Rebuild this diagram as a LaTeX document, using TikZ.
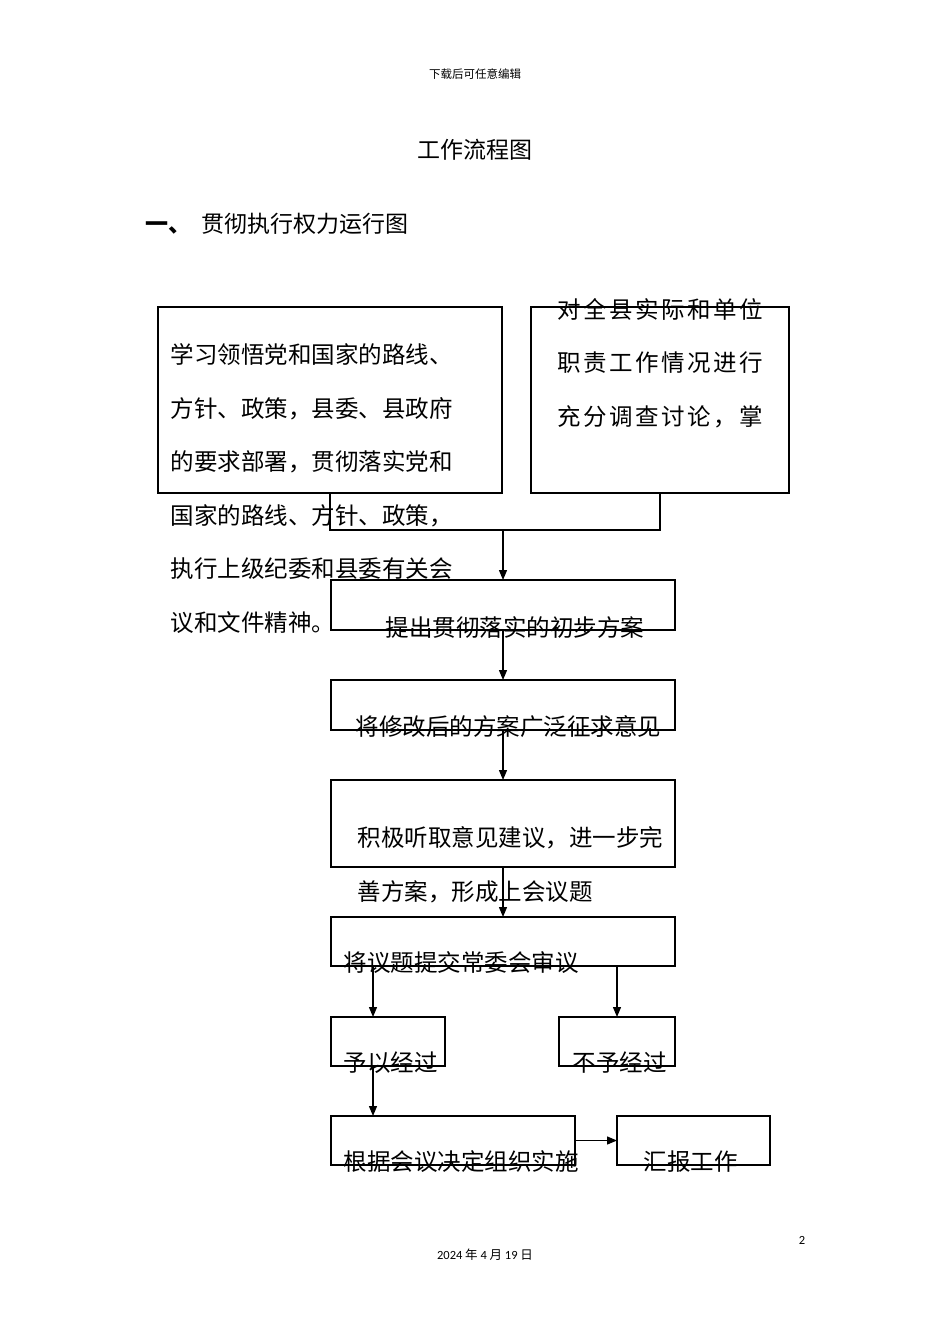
\documentclass[tikz,border=0pt]{standalone}
\usepackage{fontspec}
\setmainfont{Noto Sans CJK SC}
\newfontfamily\latinfont{Carlito}
\usetikzlibrary{arrows.meta}

\begin{document}
\begin{tikzpicture}[x=1pt,y=-1pt,line width=1.3pt,>={Triangle[length=10pt,width=8pt]},
                    box/.style={rectangle,draw,inner sep=0,outer sep=0,anchor=north west},
                    txt/.style={inner sep=0,anchor=base west,align=left,
                                font=\fontsize{23.5}{53.5}\selectfont}]
  \useasboundingbox (0,0) rectangle (950,1344);

  \node (head) at (475,74) {\fontsize{11.5}{14}\selectfont 下载后可任意编辑};
  \node (title) at (475,150) {\fontsize{23}{28}\selectfont 工作流程图};
  \node[txt,font=\fontsize{23}{28}\selectfont] (sec) at (145,232) {{\bfseries 一、}\hspace{10pt}贯彻执行权力运行图};

  \node[box,minimum width=344,minimum height=186] (1) at (158,307) {};
  \node[box,minimum width=258,minimum height=186] (2) at (531,307) {};
  \node[box,minimum width=344,minimum height=50] (3) at (331,580) {};
  \node[box,minimum width=344,minimum height=50] (4) at (331,680) {};
  \node[box,minimum width=344,minimum height=87] (5) at (331,780) {};
  \node[box,minimum width=344,minimum height=49] (6) at (331,917) {};
  \node[box,minimum width=114,minimum height=49] (7) at (331,1017) {};
  \node[box,minimum width=116,minimum height=49] (8) at (559,1017) {};
  \node[box,minimum width=244,minimum height=49] (9) at (331,1116) {};
  \node[box,minimum width=153,minimum height=49] (10) at (617,1116) {};

  % multi-line texts sit on their last line
  \node[txt] (t1) at (170,631) {学习领悟党和国家的路线、\\方针、政策，县委、县政府\\的要求部署，贯彻落实党和\\国家的路线、方针、政策，\\执行上级纪委和县委有关会\\议和文件精神。};
  \node[txt,font=\fontsize{23.5}{53.5}\selectfont\addfontfeature{LetterSpace=10.6}] (t2) at (557,425) {对全县实际和单位\\职责工作情况进行\\充分调查讨论，掌};
  \node[txt] (t3) at (385,636) {提出贯彻落实的初步方案};
  \node[txt] (t4) at (355,735) {将修改后的方案广泛征求意见};
  \node[txt] (t5) at (357,900) {积极听取意见建议，进一步完\\善方案，形成上会议题};
  \node[txt] (t6) at (343,971) {将议题提交常委会审议};
  \node[txt] (t7) at (343,1071) {予以经过};
  \node[txt] (t8) at (572,1071) {不予经过};
  \node[txt] (t9) at (343,1170) {根据会议决定组织实施};
  \node[txt] (t10) at (643,1170) {汇报工作};

  \coordinate (j) at (503,530);
  \coordinate (yes) at (373,0);
  \draw (1.south) |- (j) -| (2.south);
  \path[->] (j) edge (j |- 3.north)
    (3) edge (4)
    (4) edge (5)
    (5) edge (6)
    (6.south -| yes) edge (7.north -| yes)
    (6.south -| 8.north) edge (8)
    (7.south -| yes) edge (9.north -| yes)
    (9) edge (10);

  \node (page) at (802,1240) {\latinfont\fontsize{12.5}{15}\selectfont 2};
  \node (date) at (485,1255) {\fontsize{12.5}{15}\selectfont{\latinfont 2024} 年 {\latinfont 4} 月 {\latinfont 19} 日};
\end{tikzpicture}
\end{document}
